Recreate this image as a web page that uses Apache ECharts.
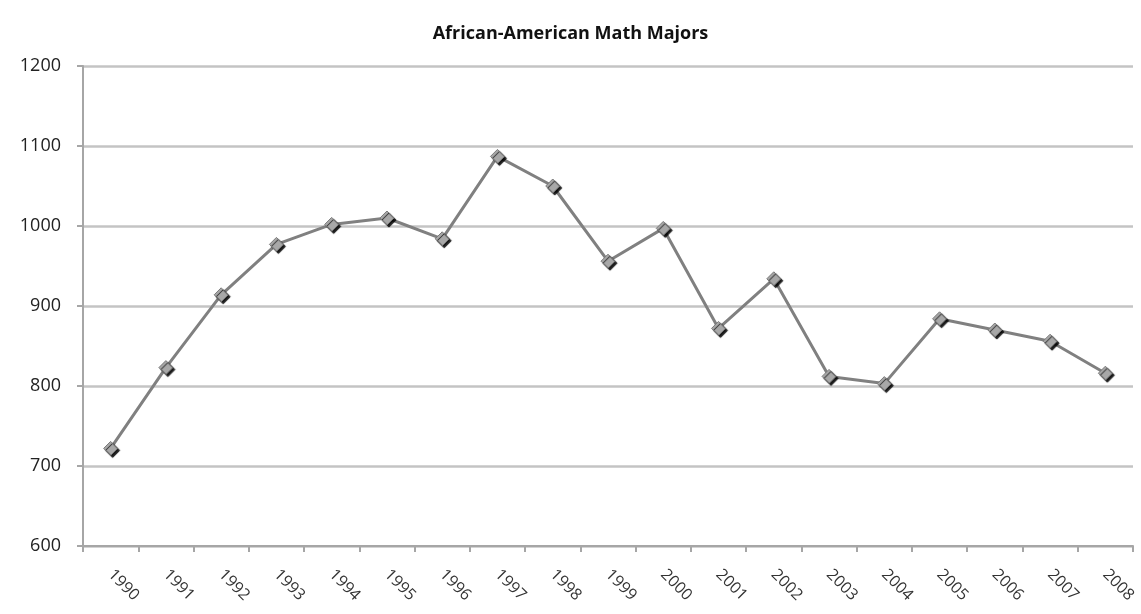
<!DOCTYPE html>
<html><head><meta charset="utf-8">
<script src="https://cdn.jsdelivr.net/npm/echarts@6/dist/echarts.min.js"></script>
<style>html,body{margin:0;padding:0;background:#fff}#c{width:1141px;height:614px}</style>
</head><body><div id="c"></div>
<script>
const titleText = 'African-American Math Majors';
const years = ['1990','1991','1992','1993','1994','1995','1996','1997','1998','1999','2000','2001','2002','2003','2004','2005','2006','2007','2008'];
const majors = [722, 823, 914, 977, 1002, 1010, 984, 1087, 1050, 956, 997, 872, 934, 812, 803, 884, 870, 856, 816];
const yTicks = {min: 600, max: 1200, interval: 100};

const chart = echarts.init(document.getElementById('c'));
chart.setOption({
  animation: false,
  backgroundColor: '#fff',
  title: {text: titleText, left: 'center', top: 20,
    textStyle: {fontFamily: 'Open Sans', fontSize: 18, fontWeight: 'bold', color: '#111'}},
  grid: {left: 83, right: 8, top: 66, bottom: 68},
  xAxis: {type: 'category', data: years, boundaryGap: true,
    axisLine: {lineStyle: {color: '#a6a6a6', width: 2}},
    axisTick: {show: true, length: 6, lineStyle: {color: '#a6a6a6', width: 2}},
    axisLabel: {rotate: -45, margin: 26, fontFamily: 'Open Sans', fontSize: 16, color: '#333'}},
  yAxis: {type: 'value', min: yTicks.min, max: yTicks.max, interval: yTicks.interval,
    axisLine: {show: true, lineStyle: {color: '#a6a6a6', width: 2}},
    axisTick: {show: true, length: 6, lineStyle: {color: '#a6a6a6', width: 2}},
    splitLine: {lineStyle: {color: '#c4c4c4', width: 2.5}},
    axisLabel: {margin: 22, fontFamily: 'Open Sans', fontSize: 18, color: '#222',
      formatter: v => String(v)}},
  series: [{type: 'line', data: majors, symbol: 'diamond', symbolSize: 14,
    lineStyle: {color: '#808080', width: 3},
    itemStyle: {color: '#a8a8a8', borderColor: '#7a7a7a', borderWidth: 1,
      shadowColor: 'rgba(0,0,0,0.9)', shadowOffsetX: 2, shadowOffsetY: 2, shadowBlur: 1}}]
});
</script></body></html>
